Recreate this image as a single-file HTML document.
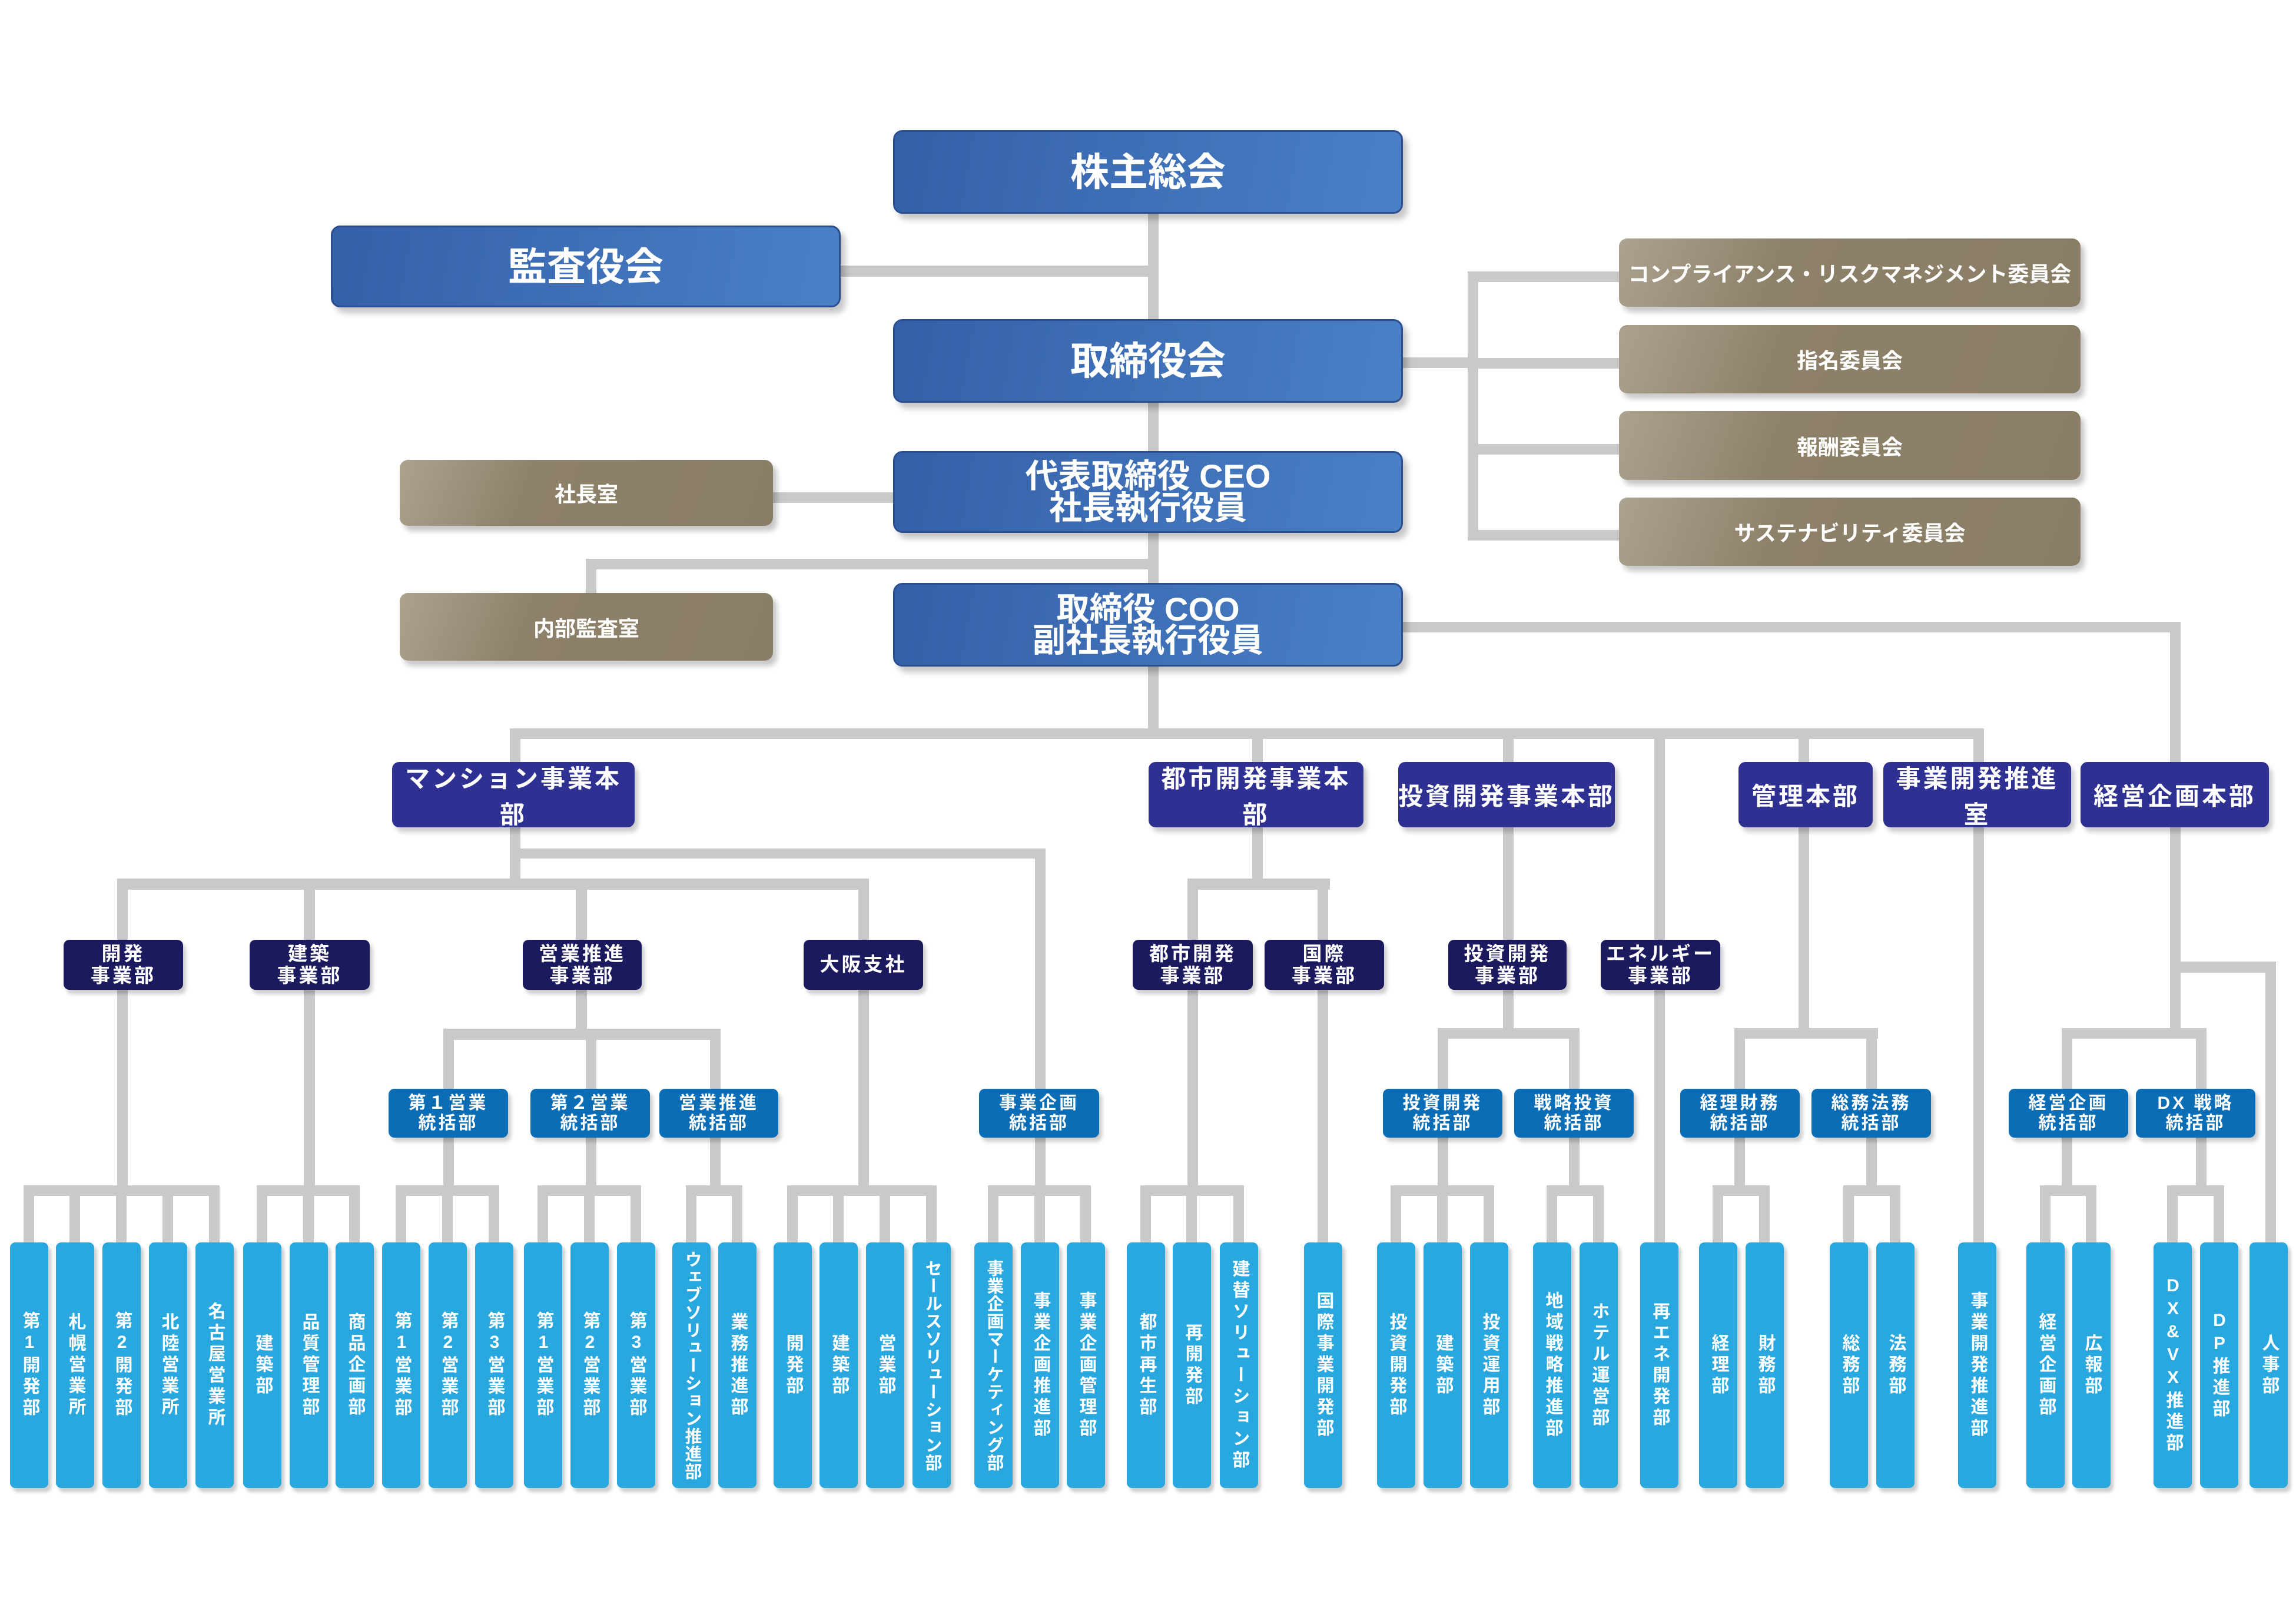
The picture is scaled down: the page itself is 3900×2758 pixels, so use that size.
<!DOCTYPE html>
<html><head><meta charset="utf-8">
<style>
body{margin:0;background:#fff;}
#c{position:relative;width:3900px;height:2758px;overflow:hidden;background:#fff;font-family:"Liberation Sans","Noto Sans CJK JP",sans-serif;}
svg{position:absolute;left:0;top:0;}
.b{position:absolute;display:flex;align-items:center;justify-content:center;text-align:center;color:#fff;box-sizing:border-box;font-weight:bold;}
.top{background:linear-gradient(100deg,#3460a8,#4a80c6);border:3px solid #2a4e90;border-radius:16px;box-shadow:8px 10px 10px rgba(0,0,0,0.22);font-size:66px;line-height:1.0;}
.top2{font-size:56px;line-height:0.95;}
.br{background:linear-gradient(110deg,#aba28f 0%,#8e8169 35%,#8a7d66 100%);border-radius:14px;box-shadow:7px 9px 9px rgba(0,0,0,0.22);font-size:36px;}
.hb{background:#2e3192;border-radius:12px;box-shadow:6px 8px 8px rgba(0,0,0,0.2);font-size:42px;letter-spacing:4px;}
.jb{background:#1c1a5e;border-radius:10px;box-shadow:5px 7px 7px rgba(0,0,0,0.2);font-size:33px;line-height:1.12;letter-spacing:4px;}
.tb{background:#0b6db6;border-radius:10px;box-shadow:5px 7px 7px rgba(0,0,0,0.2);font-size:30px;line-height:1.12;letter-spacing:4px;}
.lf{position:absolute;top:2110px;width:65px;height:417px;background:#29a8e0;border-radius:9px;box-shadow:5px 7px 6px rgba(0,0,0,0.2);color:#fff;display:flex;align-items:center;justify-content:center;font-size:30px;font-weight:bold;}
.lf span{writing-mode:vertical-rl;text-orientation:upright;letter-spacing:6px;line-height:1;}
.lf.l span{letter-spacing:1px;font-size:29px;}
</style></head><body><div id="c">
<svg width="3900" height="2758" fill="#c9c9c9">
<!-- top -->
<rect x="1950" y="363" width="18" height="891"/>
<rect x="1428" y="451" width="540" height="19"/>
<rect x="2383" y="607" width="128" height="18"/>
<rect x="2493" y="461" width="18" height="457"/>
<rect x="2493" y="461" width="257" height="18"/>
<rect x="2493" y="608" width="257" height="18"/>
<rect x="2493" y="754" width="257" height="18"/>
<rect x="2493" y="900" width="257" height="18"/>
<rect x="1313" y="836" width="204" height="18"/>
<rect x="995" y="949" width="973" height="18"/>
<rect x="995" y="949" width="18" height="58"/>
<rect x="2383" y="1056" width="1321" height="18"/>
<rect x="3686" y="1056" width="18" height="708"/>
<rect x="866" y="1237" width="2504" height="18"/>
<rect x="866" y="1237" width="18" height="274"/>
<rect x="2127" y="1237" width="18" height="274"/>
<rect x="2553" y="1237" width="18" height="527"/>
<rect x="2810" y="1237" width="18" height="873"/>
<rect x="3055" y="1237" width="18" height="527"/>
<rect x="3352" y="1237" width="18" height="873"/>
<!-- mansion -->
<rect x="199" y="1492" width="1277" height="19"/>
<rect x="883" y="1441" width="893" height="17"/>
<rect x="1758" y="1441" width="18" height="590"/>
<rect x="199" y="1492" width="18" height="539"/>
<rect x="516" y="1492" width="19" height="539"/>
<rect x="978" y="1492" width="19" height="274"/>
<rect x="1458" y="1492" width="18" height="539"/>
<rect x="753" y="1747" width="471" height="19"/>
<rect x="753" y="1747" width="18" height="284"/>
<rect x="995" y="1747" width="18" height="284"/>
<rect x="1206" y="1747" width="18" height="284"/>
<!-- toshi -->
<rect x="2017" y="1492" width="242" height="19"/>
<rect x="2017" y="1492" width="18" height="539"/>
<rect x="2238" y="1492" width="18" height="618"/>
<!-- toshi kaihatsu -->
<rect x="2442" y="1746" width="241" height="18"/>
<rect x="2442" y="1746" width="18" height="285"/>
<rect x="2665" y="1746" width="18" height="285"/>
<!-- kanri -->
<rect x="2946" y="1746" width="244" height="18"/>
<rect x="2946" y="1746" width="18" height="285"/>
<rect x="3170" y="1746" width="18" height="285"/>
<!-- keiei -->
<rect x="3686" y="1633" width="180" height="19"/>
<rect x="3848" y="1633" width="18" height="477"/>
<rect x="3502" y="1746" width="246" height="18"/>
<rect x="3502" y="1746" width="18" height="285"/>
<rect x="3730" y="1746" width="18" height="285"/>
<!-- leaf buses -->
<rect x="40" y="2013" width="333" height="18"/>
<rect x="436" y="2013" width="175" height="18"/>
<rect x="672" y="2013" width="176" height="18"/>
<rect x="913" y="2013" width="176" height="18"/>
<rect x="1165" y="2013" width="96" height="18"/>
<rect x="1337" y="2013" width="254" height="18"/>
<rect x="1678" y="2013" width="175" height="18"/>
<rect x="1937" y="2013" width="176" height="18"/>
<rect x="2362" y="2013" width="176" height="18"/>
<rect x="2627" y="2013" width="97" height="18"/>
<rect x="2909" y="2013" width="97" height="18"/>
<rect x="3131" y="2013" width="97" height="18"/>
<rect x="3465" y="2013" width="96" height="18"/>
<rect x="3681" y="2013" width="97" height="18"/>
<!-- leaf drops -->
<g>
<rect x="40" y="2013" width="18" height="97"/><rect x="118" y="2013" width="18" height="97"/><rect x="197" y="2013" width="18" height="97"/><rect x="276" y="2013" width="18" height="97"/><rect x="355" y="2013" width="18" height="97"/>
<rect x="436" y="2013" width="18" height="97"/><rect x="515" y="2013" width="18" height="97"/><rect x="593" y="2013" width="18" height="97"/>
<rect x="672" y="2013" width="18" height="97"/><rect x="751" y="2013" width="18" height="97"/><rect x="830" y="2013" width="18" height="97"/>
<rect x="913" y="2013" width="18" height="97"/><rect x="992" y="2013" width="18" height="97"/><rect x="1071" y="2013" width="18" height="97"/>
<rect x="1165" y="2013" width="18" height="97"/><rect x="1243" y="2013" width="18" height="97"/>
<rect x="1337" y="2013" width="18" height="97"/><rect x="1415" y="2013" width="18" height="97"/><rect x="1494" y="2013" width="18" height="97"/><rect x="1573" y="2013" width="18" height="97"/>
<rect x="1678" y="2013" width="18" height="97"/><rect x="1757" y="2013" width="18" height="97"/><rect x="1835" y="2013" width="18" height="97"/>
<rect x="1937" y="2013" width="18" height="97"/><rect x="2015" y="2013" width="18" height="97"/><rect x="2095" y="2013" width="18" height="97"/>
<rect x="2362" y="2013" width="18" height="97"/><rect x="2441" y="2013" width="18" height="97"/><rect x="2520" y="2013" width="18" height="97"/>
<rect x="2627" y="2013" width="18" height="97"/><rect x="2706" y="2013" width="18" height="97"/>
<rect x="2909" y="2013" width="18" height="97"/><rect x="2988" y="2013" width="18" height="97"/>
<rect x="3131" y="2013" width="18" height="97"/><rect x="3210" y="2013" width="18" height="97"/>
<rect x="3465" y="2013" width="18" height="97"/><rect x="3543" y="2013" width="18" height="97"/>
<rect x="3681" y="2013" width="18" height="97"/><rect x="3760" y="2013" width="18" height="97"/>
</g>
</svg>

<div class="b top" style="left:1517px;top:221px;width:866px;height:142px;">株主総会</div>
<div class="b top" style="left:562px;top:383px;width:866px;height:139px;">監査役会</div>
<div class="b top" style="left:1517px;top:542px;width:866px;height:142px;">取締役会</div>
<div class="b top top2" style="left:1517px;top:766px;width:866px;height:139px;">代表取締役 CEO<br>社長執行役員</div>
<div class="b top top2" style="left:1517px;top:990px;width:866px;height:142px;">取締役 COO<br>副社長執行役員</div>
<div class="b br" style="left:679px;top:781px;width:634px;height:112px;">社長室</div>
<div class="b br" style="left:679px;top:1007px;width:634px;height:115px;">内部監査室</div>
<div class="b br" style="left:2750px;top:405px;width:784px;height:116px;">コンプライアンス・リスクマネジメント委員会</div>
<div class="b br" style="left:2750px;top:552px;width:784px;height:116px;">指名委員会</div>
<div class="b br" style="left:2750px;top:698px;width:784px;height:117px;">報酬委員会</div>
<div class="b br" style="left:2750px;top:845px;width:784px;height:116px;">サステナビリティ委員会</div>

<div class="b hb" style="left:666px;top:1294px;width:412px;height:111px;">マンション事業本部</div>
<div class="b hb" style="left:1951px;top:1294px;width:365px;height:111px;">都市開発事業本部</div>
<div class="b hb" style="left:2375px;top:1294px;width:368px;height:111px;">投資開発事業本部</div>
<div class="b hb" style="left:2953px;top:1294px;width:228px;height:111px;">管理本部</div>
<div class="b hb" style="left:3199px;top:1294px;width:319px;height:111px;">事業開発推進室</div>
<div class="b hb" style="left:3534px;top:1294px;width:320px;height:111px;">経営企画本部</div>

<div class="b jb" style="left:108px;top:1596px;width:203px;height:85px;">開発<br>事業部</div>
<div class="b jb" style="left:424px;top:1596px;width:204px;height:85px;">建築<br>事業部</div>
<div class="b jb" style="left:888px;top:1596px;width:202px;height:85px;">営業推進<br>事業部</div>
<div class="b jb" style="left:1365px;top:1596px;width:203px;height:85px;">大阪支社</div>
<div class="b jb" style="left:1924px;top:1596px;width:204px;height:85px;">都市開発<br>事業部</div>
<div class="b jb" style="left:2148px;top:1596px;width:203px;height:85px;">国際<br>事業部</div>
<div class="b jb" style="left:2460px;top:1596px;width:201px;height:85px;">投資開発<br>事業部</div>
<div class="b jb" style="left:2719px;top:1596px;width:203px;height:85px;">エネルギー<br>事業部</div>

<div class="b tb" style="left:660px;top:1849px;width:203px;height:83px;">第１営業<br>統括部</div>
<div class="b tb" style="left:901px;top:1849px;width:203px;height:83px;">第２営業<br>統括部</div>
<div class="b tb" style="left:1120px;top:1849px;width:202px;height:83px;">営業推進<br>統括部</div>
<div class="b tb" style="left:1663px;top:1849px;width:204px;height:83px;">事業企画<br>統括部</div>
<div class="b tb" style="left:2349px;top:1849px;width:203px;height:83px;">投資開発<br>統括部</div>
<div class="b tb" style="left:2572px;top:1849px;width:203px;height:83px;">戦略投資<br>統括部</div>
<div class="b tb" style="left:2854px;top:1849px;width:203px;height:83px;">経理財務<br>統括部</div>
<div class="b tb" style="left:3077px;top:1849px;width:203px;height:83px;">総務法務<br>統括部</div>
<div class="b tb" style="left:3412px;top:1849px;width:203px;height:83px;">経営企画<br>統括部</div>
<div class="b tb" style="left:3628px;top:1849px;width:203px;height:83px;">DX 戦略<br>統括部</div>

<div class="lf" style="left:17px"><span>第1開発部</span></div>
<div class="lf" style="left:95px"><span>札幌営業所</span></div>
<div class="lf" style="left:174px"><span>第2開発部</span></div>
<div class="lf" style="left:253px"><span>北陸営業所</span></div>
<div class="lf" style="left:332px"><span>名古屋営業所</span></div>
<div class="lf" style="left:413px"><span>建築部</span></div>
<div class="lf" style="left:492px"><span>品質管理部</span></div>
<div class="lf" style="left:570px"><span>商品企画部</span></div>
<div class="lf" style="left:649px"><span>第1営業部</span></div>
<div class="lf" style="left:728px"><span>第2営業部</span></div>
<div class="lf" style="left:807px"><span>第3営業部</span></div>
<div class="lf" style="left:890px"><span>第1営業部</span></div>
<div class="lf" style="left:969px"><span>第2営業部</span></div>
<div class="lf" style="left:1048px"><span>第3営業部</span></div>
<div class="lf l" style="left:1142px"><span>ウェブソリューション推進部</span></div>
<div class="lf" style="left:1220px"><span>業務推進部</span></div>
<div class="lf" style="left:1314px"><span>開発部</span></div>
<div class="lf" style="left:1392px"><span>建築部</span></div>
<div class="lf" style="left:1471px"><span>営業部</span></div>
<div class="lf l" style="left:1550px"><span>セールスソリューション部</span></div>
<div class="lf l" style="left:1655px"><span>事業企画マーケティング部</span></div>
<div class="lf" style="left:1734px"><span>事業企画推進部</span></div>
<div class="lf" style="left:1812px"><span>事業企画管理部</span></div>
<div class="lf" style="left:1914px"><span>都市再生部</span></div>
<div class="lf" style="left:1992px"><span>再開発部</span></div>
<div class="lf" style="left:2072px"><span>建替ソリューション部</span></div>
<div class="lf" style="left:2215px"><span>国際事業開発部</span></div>
<div class="lf" style="left:2339px"><span>投資開発部</span></div>
<div class="lf" style="left:2418px"><span>建築部</span></div>
<div class="lf" style="left:2497px"><span>投資運用部</span></div>
<div class="lf" style="left:2604px"><span>地域戦略推進部</span></div>
<div class="lf" style="left:2683px"><span>ホテル運営部</span></div>
<div class="lf" style="left:2786px"><span>再エネ開発部</span></div>
<div class="lf" style="left:2886px"><span>経理部</span></div>
<div class="lf" style="left:2965px"><span>財務部</span></div>
<div class="lf" style="left:3108px"><span>総務部</span></div>
<div class="lf" style="left:3187px"><span>法務部</span></div>
<div class="lf" style="left:3326px"><span>事業開発推進部</span></div>
<div class="lf" style="left:3442px"><span>経営企画部</span></div>
<div class="lf" style="left:3520px"><span>広報部</span></div>
<div class="lf" style="left:3658px"><span>DX&amp;VX推進部</span></div>
<div class="lf" style="left:3737px"><span>DP推進部</span></div>
<div class="lf" style="left:3821px"><span>人事部</span></div>
</div></body></html>
